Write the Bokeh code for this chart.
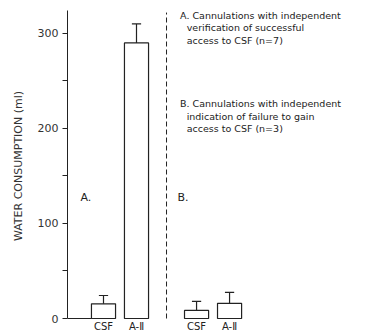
from bokeh.plotting import figure
from bokeh.models import FixedTicker, Range1d, Label
from bokeh.embed import file_html
from bokeh.resources import INLINE
from bokeh.core.properties import value

# ---- data ----
groups = ["A", "A", "B", "B"]
treatments = ["CSF", "A-\u2161", "CSF", "A-\u2161"]
means = [15.5, 290, 8.5, 16]
errors = [8.7, 20, 9.5, 11.5]
y_ticks = [0, 100, 200, 300]
y_minor = [50, 150, 250]
note_a = ["A. Cannulations with independent", "verification of successful", "access to CSF (n=7)"]
note_b = ["B. Cannulations with independent", "indication of failure to gain", "access to CSF (n=3)"]
group_labels = ["A.", "B."]
y_label = "WATER CONSUMPTION (ml)"

FONT = "DejaVu Sans"
INK = "#222222"

# positions derived from group / order
group_gap = 2.82
gi = {"A": 0, "B": 1}
xs = []
order = {}
for g in groups:
    k = order.get(g, 0)
    xs.append(1 + gi[g] * group_gap + k)
    order[g] = k + 1
bar_w = 0.73
cap = 0.14

x0 = -0.0909
p = figure(width=367, height=331, output_backend="svg", toolbar_location=None,
           x_range=Range1d(x0, x0 + 300 / 33.0), y_range=Range1d(-13.68, 334.7),
           min_border_left=67, min_border_right=0, min_border_top=0, min_border_bottom=0)
p.outline_line_color = None
p.grid.visible = False
p.xaxis.visible = False

ax = p.yaxis[0]
ax.ticker = FixedTicker(ticks=y_ticks, minor_ticks=y_minor)
ax.bounds = (0, 324)
ax.axis_line_color = INK
ax.major_tick_line_color = INK
ax.minor_tick_line_color = INK
ax.major_tick_in = 0
ax.major_tick_out = 5
ax.minor_tick_in = 0
ax.minor_tick_out = 5
ax.major_label_standoff = 4
ax.major_label_text_font = FONT
ax.major_label_text_font_size = "11px"
ax.major_label_text_color = "#333333"
ax.axis_label = y_label
ax.axis_label_text_font = FONT
ax.axis_label_text_font_size = "11px"
ax.axis_label_text_font_style = "normal"
ax.axis_label_text_color = "#333333"
ax.axis_label_standoff = 10

# bars
p.vbar(x=xs, top=means, bottom=0, width=bar_w, fill_color="white",
       line_color=INK, line_width=1.2)
# error bars (upper only)
tops = [m + e for m, e in zip(means, errors)]
p.segment(x0=xs, y0=means, x1=xs, y1=tops, line_color=INK, line_width=1.2)
p.segment(x0=[x - cap for x in xs], y0=tops, x1=[x + cap for x in xs], y1=tops,
          line_color=INK, line_width=1.2)

# baseline stub
p.segment(x0=[x0], y0=[0], x1=[xs[0] - bar_w / 2], y1=[0], line_color=INK, line_width=1.2)

# dashed divider
mid = (xs[1] + xs[2]) / 2
p.segment(x0=[mid], y0=[0], x1=[mid], y1=[322], line_color=INK, line_width=1,
          line_dash="5 3")

# category labels below bars
p.text(x=xs, y=[-2.4] * 4, text=treatments, text_align="center", text_baseline="top",
       text_font=value(FONT), text_font_size="10px", text_color=INK)

# group labels
p.text(x=[0.30, mid + 0.33], y=[127, 127], text=group_labels, text_align="left",
       text_baseline="middle", text_font=value(FONT), text_font_size="11px", text_color=INK)

# notes
nx = xs[2] - 0.5
for i, line in enumerate(note_a):
    p.add_layout(Label(x=nx + (0 if i == 0 else 0.2), y=319 - i * 13.2, text=line,
                       text_font=FONT, text_font_size="9.5px", text_color=INK,
                       text_baseline="middle"))
for i, line in enumerate(note_b):
    p.add_layout(Label(x=nx + (0 if i == 0 else 0.2), y=226 - i * 13.2, text=line,
                       text_font=FONT, text_font_size="9.5px", text_color=INK,
                       text_baseline="middle"))

open("out.html", "w").write(file_html(p, INLINE))
